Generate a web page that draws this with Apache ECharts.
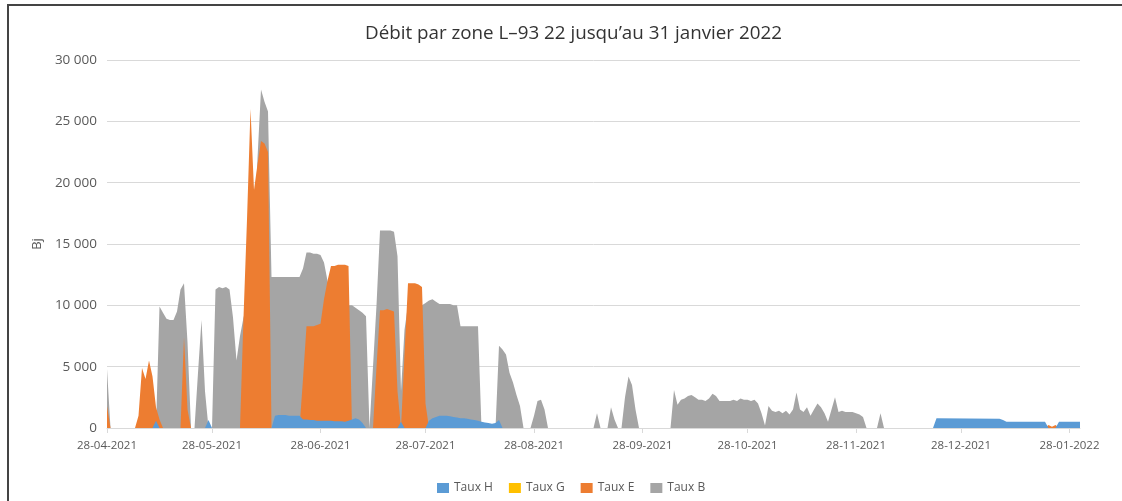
<!DOCTYPE html>
<html>
<head>
<meta charset="utf-8">
<script src="https://cdn.jsdelivr.net/npm/echarts@6/dist/echarts.min.js"></script>
<style>
  html, body { margin: 0; padding: 0; background: #fff; overflow: hidden; }
  #chart { width: 1122px; height: 501px; }
</style>
</head>
<body>
<div id="chart"></div>
<script>
// x = jours depuis le 28-04-2021
const tickDays = [0, 30, 61, 91, 122, 153, 183, 214, 244, 275]
const tickLabels = ['28-04-2021', '28-05-2021', '28-06-2021', '28-07-2021', '28-08-2021',
  '28-09-2021', '28-10-2021', '28-11-2021', '28-12-2021', '28-01-2022']
const yTicks = [0, 5000, 10000, 15000, 20000, 25000, 30000]
const seriesNames = ['Taux H', 'Taux G', 'Taux E', 'Taux B']

const tauxH = [
  [0, 0], [13, 0], [14, 600], [15, 0], [28, 0], [29, 650], [30, 0],
  [47, 0], [48, 1000], [49, 1050], [51, 1050], [52, 1000], [55, 1000], [56, 700], [57, 700],
  [58, 650], [59, 650], [60, 600], [64, 600], [65, 550], [67, 550], [68, 500], [69, 600],
  [70, 700], [71, 800], [72, 700], [73, 400], [74, 0],
  [83, 0], [84, 500], [85, 0],
  [91, 0], [92, 600], [93, 800], [94, 900], [95, 1000], [97, 1000], [98, 950], [99, 900],
  [100, 850], [101, 800], [102, 800], [103, 750], [104, 700], [105, 650], [106, 600],
  [107, 500], [108, 450], [109, 400], [110, 350], [111, 400], [112, 650], [113, 0],
  [236, 0], [237, 800], [255, 750], [256, 650], [257, 500], [268, 500], [269, 0],
  [271, 0], [272, 500], [278, 500]
]
const tauxG = [[0, 0], [278, 0]]
const tauxE = [
  [0, 1800], [1, 0], [8, 0], [9, 1000], [10, 4900], [11, 4000], [12, 5500], [13, 4200],
  [14, 1700], [15, 700], [16, 0], [21, 0], [22, 7400], [23, 1500], [24, 0],
  [38, 0], [39, 9000], [40, 17000], [41, 26000], [42, 19400], [43, 21500], [44, 23400],
  [45, 23200], [46, 22500], [47, 0],
  [55, 0], [56, 4000], [57, 8300], [59, 8300], [60, 8400], [61, 8500], [62, 10500],
  [63, 12000], [64, 13200], [65, 13200], [66, 13300], [68, 13300], [69, 13200], [70, 0],
  [76, 0], [77, 5000], [78, 9600], [79, 9600], [80, 9700], [81, 9600], [82, 9500],
  [83, 3000], [84, 0], [85, 6000], [86, 11800], [88, 11800], [89, 11700], [90, 11500],
  [91, 2000], [92, 0],
  [268, 0], [269, 250], [270, 100], [271, 250], [272, 0], [278, 0]
]
const tauxB = [
  [0, 4800], [1, 0], [14, 0], [15, 9900], [16, 9400], [17, 8900], [18, 8800], [19, 8800],
  [20, 9500], [21, 11300], [22, 11800], [23, 7000], [24, 0], [25, 0], [26, 4500],
  [27, 8800], [28, 3000], [29, 0], [30, 0], [31, 11300], [32, 11500], [33, 11400],
  [34, 11500], [35, 11300], [36, 9000], [37, 5500], [38, 7500], [39, 9000], [40, 10000],
  [41, 12000], [42, 15000], [43, 22000], [44, 27600], [45, 26600], [46, 25800],
  [47, 12300], [55, 12300], [56, 13000], [57, 14300], [58, 14300], [59, 14200],
  [60, 14200], [61, 14100], [62, 13500], [63, 12000], [64, 11000], [65, 10500],
  [66, 10200], [67, 10100], [68, 10100], [69, 10000], [70, 10000], [71, 9800],
  [72, 9600], [73, 9400], [74, 9100], [75, 0], [76, 5000], [77, 10000], [78, 16100],
  [81, 16100], [82, 16000], [83, 14000], [84, 3000], [85, 8000], [86, 10000],
  [90, 10000], [91, 10200], [92, 10400], [93, 10500], [94, 10300], [95, 10100],
  [98, 10100], [99, 10000], [100, 10000], [101, 8300], [106, 8300], [107, 0],
  [111, 0], [112, 6700], [113, 6400], [114, 6000], [115, 4500], [116, 3700],
  [117, 2700], [118, 1800], [119, 0],
  [121, 0], [122, 1000], [123, 2200], [124, 2300], [125, 1500], [126, 0],
  [139, 0], [140, 1200], [141, 0], [143, 0], [144, 1700], [145, 700], [146, 0],
  [147, 0], [148, 2500], [149, 4200], [150, 3500], [151, 1500], [152, 0],
  [161, 0], [162, 3100], [163, 1900], [164, 2300], [165, 2400], [166, 2600],
  [167, 2700], [168, 2500], [169, 2300], [170, 2300], [171, 2200], [172, 2400],
  [173, 2800], [174, 2600], [175, 2200], [176, 2200], [177, 2200], [178, 2200],
  [179, 2300], [180, 2200], [181, 2400], [182, 2300], [183, 2300], [184, 2200],
  [185, 2300], [186, 2000], [187, 1200], [188, 200], [189, 1800], [190, 1400],
  [191, 1300], [192, 1400], [193, 1200], [194, 1400], [195, 1100], [196, 1500],
  [197, 2900], [198, 1500], [199, 1300], [200, 1700], [201, 1000], [202, 1500],
  [203, 2000], [204, 1700], [205, 1200], [206, 500], [207, 1500], [208, 2500],
  [209, 1300], [210, 1400], [211, 1300], [212, 1300], [213, 1300], [214, 1200],
  [215, 1100], [216, 900], [217, 0],
  [220, 0], [221, 1200], [222, 0], [278, 0]
]

const colors = {
  'Taux H': '#5b9bd5',
  'Taux G': '#ffc000',
  'Taux E': '#ed7d31',
  'Taux B': '#a5a5a5'
}

function fmtThousands(v) {
  return String(v).replace(/\B(?=(\d{3})+(?!\d))/g, ' ')
}

function areaSeries(name, data) {
  return {
    name: name,
    type: 'line',
    data: data,
    symbol: 'none',
    smooth: false,
    lineStyle: { width: 0 },
    areaStyle: { color: colors[name], opacity: 1 },
    itemStyle: { color: colors[name] },
    emphasis: { disabled: true }
  }
}

const chart = echarts.init(document.getElementById('chart'))
chart.setOption({
  animation: false,
  textStyle: { fontFamily: 'Open Sans' },
  title: {
    text: 'Débit par zone L–93 22 jusqu’au 31 janvier 2022',
    left: 360,
    top: 19,
    textStyle: { fontSize: 18.8, fontWeight: 'normal', color: '#333333', fontFamily: 'Open Sans' }
  },
  graphic: [{
    type: 'rect',
    shape: { x: 8, y: 5, width: 1300, height: 700 },
    style: { fill: 'none', stroke: '#444444', lineWidth: 2 },
    silent: true
  }],
  legend: {
    data: seriesNames,
    left: 432,
    top: 477,
    icon: 'rect',
    itemWidth: 12,
    itemHeight: 10,
    itemGap: 16,
    textStyle: { fontSize: 12, color: '#595959' }
  },
  grid: {
    left: 107,
    right: 42,
    top: 60,
    bottom: 73
  },
  xAxis: {
    type: 'value',
    min: 0,
    max: 278,
    splitLine: { show: false },
    axisLine: { show: true, lineStyle: { color: '#d9d9d9' } },
    axisTick: {
      show: true,
      customValues: tickDays,
      length: 5,
      lineStyle: { color: '#d9d9d9' }
    },
    axisLabel: {
      customValues: tickDays,
      margin: 12,
      fontSize: 11.5,
      color: '#595959',
      formatter: function (v) {
        const i = tickDays.indexOf(v)
        return i >= 0 ? tickLabels[i] : ''
      }
    }
  },
  yAxis: {
    type: 'value',
    min: yTicks[0],
    max: yTicks[yTicks.length - 1],
    interval: 5000,
    name: 'Bj',
    nameLocation: 'middle',
    nameRotate: 90,
    nameGap: 62,
    nameTextStyle: { fontSize: 13, color: '#595959' },
    axisLine: { show: false },
    axisTick: { show: false },
    splitLine: { lineStyle: { color: '#d9d9d9', width: 1 } },
    axisLabel: {
      margin: 10,
      fontSize: 13.5,
      color: '#595959',
      formatter: fmtThousands
    }
  },
  series: [
    areaSeries('Taux B', tauxB),
    areaSeries('Taux E', tauxE),
    areaSeries('Taux G', tauxG),
    areaSeries('Taux H', tauxH)
  ]
})
</script>
</body>
</html>
